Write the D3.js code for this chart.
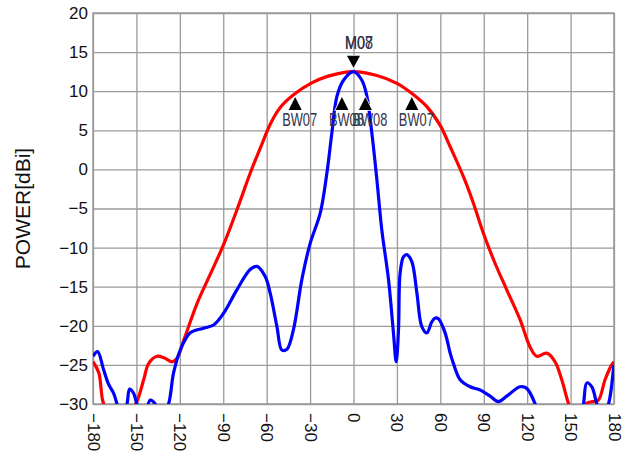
<!DOCTYPE html>
<html>
<head>
<meta charset="utf-8">
<script src="https://cdn.jsdelivr.net/npm/d3@7"></script>
<style>
  html, body { margin: 0; padding: 0; background: #fff; }
  svg { display: block; }
</style>
</head>
<body>
<svg id="chart" width="635" height="462"></svg>
<script>
// ---- data ----
const xTicks = [-180, -150, -120, -90, -60, -30, 0, 30, 60, 90, 120, 150, 180];
const yTicks = [-30, -25, -20, -15, -10, -5, 0, 5, 10, 15, 20];
const yLabel = "POWER[dBi]";

const redAngles = [-180, -176, -172.6, -168, -162, -156, -150.5, -145, -141.5, -135.7, -131, -125.3, -121.8, -117.2, -108, -98.7, -89.5, -80.2, -71, -64, -57.2, -50.2, -41, -29.5, -18, 0, 16.2, 30, 40.4, 50.8, 60, 66.8, 75.9, 82.8, 89.8, 97.8, 105.9, 115.1, 122, 126.6, 133.5, 139.3, 143.9, 148.5, 152, 157, 161.2, 165, 169.2, 173.8, 178.4, 180];
const redValues = [-24.6, -26, -30, -31, -30.2, -31, -30, -26.9, -24.8, -23.9, -24.1, -24.6, -24.1, -21.8, -17.1, -13.3, -9.5, -5.0, -0.3, 2.9, 5.9, 8.0, 9.6, 11.0, 11.9, 12.5, 12.0, 11.0, 9.7, 8.0, 5.6, 2.9, -0.9, -4.3, -8.2, -12.0, -15.4, -19.2, -22.7, -23.9, -23.5, -24.6, -26.9, -29.9, -31.5, -31, -29.9, -29.7, -29.5, -26.9, -25, -24.6];

const blueAngles = [-180, -176.8, -172.7, -169.2, -165.8, -163.4, -160, -156.5, -154.7, -152, -149.6, -145, -140.4, -137, -133, -127.8, -124.3, -119.7, -112.8, -103.6, -96.7, -89.8, -80.6, -71.4, -66.7, -61, -57.6, -52.9, -49.5, -46, -41.5, -35.7, -30, -23, -18.4, -15, -11.5, -6.9, 0, 5.8, 9.3, 12.7, 16.2, 19.6, 24.2, 27.6, 29.5, 31.1, 32.2, 34.5, 36.9, 40.3, 43.8, 47.2, 50.7, 54.1, 56.5, 58.7, 63.3, 66.8, 69, 73.7, 80.6, 87.5, 94.4, 100.1, 105.9, 115.1, 119.7, 125.5, 130, 145, 155, 158.9, 161.2, 164.7, 168.2, 172, 176.2, 179.6, 180];
const blueValues = [-23.9, -23.3, -25.6, -27.5, -28.6, -30, -32, -30, -28.1, -28.6, -30, -31.5, -29.5, -30, -32, -30, -26, -23.1, -20.9, -20.3, -19.9, -18.4, -15.4, -12.8, -12.4, -13.7, -15.8, -20.1, -23.1, -23, -20.5, -14.1, -9.5, -5.6, -0.5, 4.6, 9.3, 11.4, 12.5, 11.4, 9.3, 4.6, -1.4, -7.8, -14.1, -20.9, -24.6, -20.5, -13.3, -11.2, -10.9, -11.8, -15.8, -20.1, -20.9, -19.5, -19, -19.1, -20.9, -23.5, -24.8, -26.9, -27.8, -28.2, -29, -29.7, -29, -27.8, -28, -30, -33, -34, -33, -30, -27.3, -27.8, -30, -31.5, -30, -25.6, -25];

const markerNames  = ["M07", "M08", "BW07", "BW07", "BW08", "BW08"];
const markerAngles = [0, 0, -40.3, 40.3, -8, 8.2];
const markerValues = [12.5, 12.5, 9.5, 9.5, 9.5, 9.5];
const markerDirs   = ["down", "down", "up", "up", "up", "up"];

// ---- layout ----
const svg = d3.select("#chart");
const L = 93, R = 614, T = 13, B = 404;
const x = d3.scaleLinear().domain([-180, 180]).range([L, R]);
const y = d3.scaleLinear().domain([-30, 20]).range([B, T]);
const gridColor = "#9a9a9a";
const font = "'Liberation Sans', Arial, sans-serif";

svg.append("rect").attr("width", 635).attr("height", 462).attr("fill", "#fff");

// y axis + horizontal grid
const gy = svg.append("g").attr("transform", `translate(${L},0)`)
  .call(d3.axisLeft(y).tickValues(yTicks).tickSize(-(R - L)).tickPadding(5));
gy.select(".domain").remove();
gy.selectAll(".tick line").attr("stroke", gridColor).attr("stroke-width", 1.3);
gy.selectAll(".tick text").attr("font-family", font).attr("font-size", 17).attr("fill", "#111");

// x axis + vertical grid
const gx = svg.append("g").attr("transform", `translate(0,${B})`)
  .call(d3.axisBottom(x).tickValues(xTicks).tickSize(-(B - T)));
gx.select(".domain").remove();
gx.selectAll(".tick line").attr("stroke", gridColor).attr("stroke-width", 1.3);
gx.selectAll(".tick text")
  .attr("font-family", font).attr("font-size", 17).attr("fill", "#111")
  .attr("transform", "rotate(90)")
  .attr("text-anchor", "start")
  .attr("x", 9).attr("y", 0).attr("dy", "0.35em");

// frame
svg.append("rect").attr("x", L).attr("y", T).attr("width", R - L).attr("height", B - T)
  .attr("fill", "none").attr("stroke", gridColor).attr("stroke-width", 1.5);

// y label
svg.append("text")
  .attr("transform", `translate(30,${(T + B) / 2}) rotate(-90)`)
  .attr("text-anchor", "middle")
  .attr("font-family", font).attr("font-size", 21).attr("fill", "#111")
  .text(yLabel);

// clip
svg.append("clipPath").attr("id", "plotclip")
  .append("rect").attr("x", L).attr("y", T).attr("width", R - L).attr("height", B - T);

const line = d3.line()
  .x(d => x(d[0])).y(d => y(d[1]))
  .curve(d3.curveCatmullRom.alpha(0.5));

const plot = svg.append("g").attr("clip-path", "url(#plotclip)");
plot.append("path")
  .attr("d", line(redAngles.map((a, i) => [a, redValues[i]])))
  .attr("fill", "none").attr("stroke", "#ff0000").attr("stroke-width", 3.2)
  .attr("stroke-linejoin", "round");
plot.append("path")
  .attr("d", line(blueAngles.map((a, i) => [a, blueValues[i]])))
  .attr("fill", "none").attr("stroke", "#0000ff").attr("stroke-width", 3.2)
  .attr("stroke-linejoin", "round");

// markers
const mg = svg.append("g");
markerNames.forEach((name, i) => {
  const cx = x(markerAngles[i]);
  const cy = y(markerValues[i]);
  const s = 6.5, h = 13;
  let p;
  if (markerDirs[i] === "up") {
    const top = cy + 2;
    p = `M${cx},${top}L${cx - s},${top + h}L${cx + s},${top + h}Z`;
    mg.append("path").attr("d", p).attr("fill", "#000")
      .attr("stroke", "#fff").attr("stroke-width", 1.5).attr("paint-order", "stroke");
    mg.append("text").attr("x", cx - 13).attr("y", top + h + 16)
      .attr("font-family", font).attr("font-size", 18.5).attr("fill", "#33334a")
      .attr("textLength", 35).attr("lengthAdjust", "spacingAndGlyphs")
      .text(name);
  } else {
    const tip = cy - 4;
    p = `M${cx},${tip}L${cx - s},${tip - h + 1}L${cx + s},${tip - h + 1}Z`;
    mg.append("path").attr("d", p).attr("fill", "#000")
      .attr("stroke", "#fff").attr("stroke-width", 1.5).attr("paint-order", "stroke");
    mg.append("text").attr("x", cx - 8.5).attr("y", tip - h - 6)
      .attr("font-family", font).attr("font-size", 18.5).attr("fill", "#33334a")
      .attr("textLength", 28).attr("lengthAdjust", "spacingAndGlyphs")
      .text(name);
  }
});
</script>
</body>
</html>
